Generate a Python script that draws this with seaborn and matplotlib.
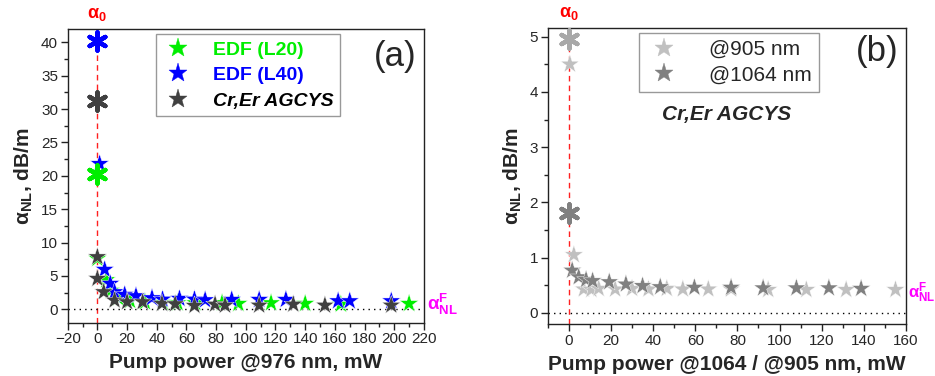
import numpy as np
import pandas as pd
import matplotlib
matplotlib.use("Agg")
import matplotlib.pyplot as plt
from matplotlib.ticker import MultipleLocator
from matplotlib.lines import Line2D
import seaborn as sns

# ---------------- data: panel (a) ----------------
a_series = ["EDF (L20)", "EDF (L40)", "Cr,Er AGCYS"]
a_colors = ["#00ee00", "#0000ff", "#404040"]

l20_alpha0 = 20.3
l20_x = [0, 6, 9, 14, 22, 32, 44, 54, 66, 84, 95, 117, 140, 164, 210]
l20_y = [7.6, 4.4, 2.8, 1.7, 1.3, 1.1, 1.0, 0.95, 0.95, 0.95, 0.85, 0.95, 0.85, 0.75, 0.85]

l40_alpha0 = 40.2
l40_x = [1.5, 4.9, 8.7, 11.6, 18.4, 26, 36.8, 43.9, 55.3, 65.4, 72.6, 90.5, 109, 127, 162.2, 170, 198]
l40_y = [21.8, 5.95, 3.85, 2.6, 2.2, 2.0, 1.7, 1.5, 1.6, 1.5, 1.4, 1.45, 1.45, 1.45, 1.25, 1.25, 1.25]

agc_alpha0 = 31.2
agc_x = [0, 0, 4.3, 11.6, 20, 30.5, 43.5, 52.4, 65.4, 79.3, 86, 109, 132, 153.3, 198]
agc_y = [7.85, 4.6, 2.6, 1.35, 1.1, 1.1, 0.85, 0.8, 0.55, 0.75, 0.6, 0.6, 0.75, 0.6, 0.6]

# ---------------- data: panel (b) ----------------
b_series = ["@905 nm", "@1064 nm"]
b_colors = ["#c0c0c0", "#808080"]

w905_alpha0 = 4.95
w905_x = [0.5, 2.4, 7.1, 10.7, 14.2, 22, 30, 37.8, 46.5, 54.1, 66.2, 77, 94.6, 112.7, 131.6, 155]
w905_y = [4.5, 1.05, 0.43, 0.42, 0.44, 0.43, 0.44, 0.43, 0.44, 0.43, 0.43, 0.43, 0.42, 0.42, 0.42, 0.42]

w1064_alpha0 = 1.8
w1064_x = [1.6, 4.7, 8.2, 11.3, 19.2, 27.1, 35, 43.4, 59.6, 77, 92.2, 108, 123.4, 138.7]
w1064_y = [0.77, 0.65, 0.6, 0.58, 0.56, 0.52, 0.49, 0.47, 0.46, 0.46, 0.45, 0.45, 0.45, 0.44]

a_xticks = list(range(-20, 221, 20))
a_yticks = list(range(0, 41, 5))
b_xticks = list(range(0, 161, 20))
b_yticks = list(range(0, 6, 1))

# ---------------- style ----------------
sns.set_style("ticks")
plt.rcParams["font.family"] = ["Liberation Sans", "DejaVu Sans"]
plt.rcParams["mathtext.fontset"] = "custom"
plt.rcParams["mathtext.rm"] = "Liberation Sans"
plt.rcParams["mathtext.it"] = "Liberation Sans:italic"
plt.rcParams["mathtext.bf"] = "Liberation Sans:bold"

fig = plt.figure(figsize=(9.35, 3.76), dpi=100)
axa = fig.add_axes([0.0724, 0.1418, 0.381, 0.781])
axb = fig.add_axes([0.5858, 0.1383, 0.3832, 0.7864])

STAR = 200
AST = 170
ASTM = (6, 2, 0)


def star_df(xs, ys, name):
    return pd.DataFrame({"power": xs, "alpha": ys, "series": name})


# panel (a)
dfa = pd.concat([star_df(l20_x, l20_y, a_series[0]),
                 star_df(l40_x, l40_y, a_series[1]),
                 star_df(agc_x, agc_y, a_series[2])], ignore_index=True)
pal_a = dict(zip(a_series, a_colors))
axa.axvline(0, color="#ff2020", ls=(0, (4, 3)), lw=1.0, zorder=1)
axa.axhline(0, color="black", ls=(0, (1, 3)), lw=1.0, zorder=1)
sns.scatterplot(data=dfa, x="power", y="alpha", hue="series", palette=pal_a,
                marker="*", s=STAR, linewidth=0.3, ax=axa, legend=False, zorder=3)
for val, col in zip([l20_alpha0, l40_alpha0, agc_alpha0], a_colors):
    sns.scatterplot(x=[0], y=[val], marker=ASTM, s=AST, color=col,
                    linewidth=3.2, ax=axa, legend=False, zorder=4)

# panel (b)
dfb = pd.concat([star_df(w905_x, w905_y, b_series[0]),
                 star_df(w1064_x, w1064_y, b_series[1])], ignore_index=True)
pal_b = dict(zip(b_series, b_colors))
axb.axvline(0, color="#ff2020", ls=(0, (4, 3)), lw=1.0, zorder=1)
axb.axhline(0, color="black", ls=(0, (1, 3)), lw=1.0, zorder=1)
sns.scatterplot(data=dfb, x="power", y="alpha", hue="series", palette=pal_b,
                marker="*", s=STAR, linewidth=0.3, ax=axb, legend=False, zorder=3)
for val, col in zip([w905_alpha0, w1064_alpha0], ["#a8a8a8", b_colors[1]]):
    sns.scatterplot(x=[0], y=[val], marker=ASTM, s=AST, color=col,
                    linewidth=3.2, ax=axb, legend=False, zorder=4)

# axes formatting
axa.set_xlim(-20, 220)
axa.set_ylim(-2, 42)
axa.set_xticks(a_xticks)
axa.set_yticks(a_yticks)
axa.xaxis.set_minor_locator(MultipleLocator(10))
axa.yaxis.set_minor_locator(MultipleLocator(2.5))

axb.set_xlim(-10, 160)
axb.set_ylim(-0.2, 5.15)
axb.set_xticks(b_xticks)
axb.set_yticks(b_yticks)
axb.xaxis.set_minor_locator(MultipleLocator(10))
axb.yaxis.set_minor_locator(MultipleLocator(0.5))

for ax in (axa, axb):
    for sp in ax.spines.values():
        sp.set_visible(True)
        sp.set_linewidth(1.0)
        sp.set_color("#222222")
    ax.tick_params(which="major", direction="out", length=5, width=1,
                   labelsize=11, color="#222222", pad=2)
    ax.tick_params(which="minor", direction="out", length=3, width=1, color="#222222")
    ax.set_ylabel(r"$\mathbf{\alpha_{NL}}$, dB/m", fontsize=15, fontweight="bold", labelpad=4)
    ax.text(0, 1.02, r"$\mathbf{\alpha_0}$", color="#ff0000", fontsize=13,
            transform=ax.get_xaxis_transform(), ha="center", va="bottom")

axa.set_xlabel("Pump power @976 nm, mW", fontsize=15, fontweight="bold", labelpad=5)
axb.set_xlabel("Pump power @1064 / @905 nm, mW", fontsize=15, fontweight="bold", labelpad=5)

axa.text(0.92, 0.905, "(a)", transform=axa.transAxes, fontsize=25, ha="center", va="center")
axb.text(0.92, 0.92, "(b)", transform=axb.transAxes, fontsize=25, ha="center", va="center")

axa.text(1.01, 0.75, r"$\mathbf{\alpha_{NL}^{F}}$", color="#ff00ff", fontsize=13.5,
         transform=axa.get_yaxis_transform(), ha="left", va="center")
axb.text(1.005, 0.36, r"$\mathbf{\alpha_{NL}^{F}}$", color="#ff00ff", fontsize=12,
         transform=axb.get_yaxis_transform(), ha="left", va="center")

axb.text(0.5, 0.71, "Cr,Er AGCYS", transform=axb.transAxes, fontsize=15,
         fontweight="bold", fontstyle="italic", ha="center", va="center")

# legends
ha = [Line2D([], [], ls="", marker="*", markersize=14, color=c, markeredgewidth=0.3)
      for c in a_colors]
lega = axa.legend(ha, a_series, loc="upper left", bbox_to_anchor=(0.247, 0.982),
                  borderaxespad=0, frameon=True, fancybox=False, edgecolor="#808080",
                  fontsize=14, handletextpad=1.0, labelspacing=0.4, borderpad=0.35,
                  handlelength=1.6)
lega.get_frame().set_linewidth(1.0)
for t, c in zip(lega.get_texts(), ["#00ee00", "#0000ff", "black"]):
    t.set_color(c)
    t.set_fontweight("bold")
lega.get_texts()[2].set_fontstyle("italic")

hb = [Line2D([], [], ls="", marker="*", markersize=14, color=c, markeredgewidth=0.3)
      for c in b_colors]
legb = axb.legend(hb, b_series, loc="upper left", bbox_to_anchor=(0.255, 0.985),
                  borderaxespad=0, frameon=True, fancybox=False, edgecolor="#808080",
                  fontsize=15, handletextpad=1.3, labelspacing=0.3, borderpad=0.35,
                  handlelength=1.7)
legb.get_frame().set_linewidth(1.0)

fig.savefig("out.png", dpi=100)
